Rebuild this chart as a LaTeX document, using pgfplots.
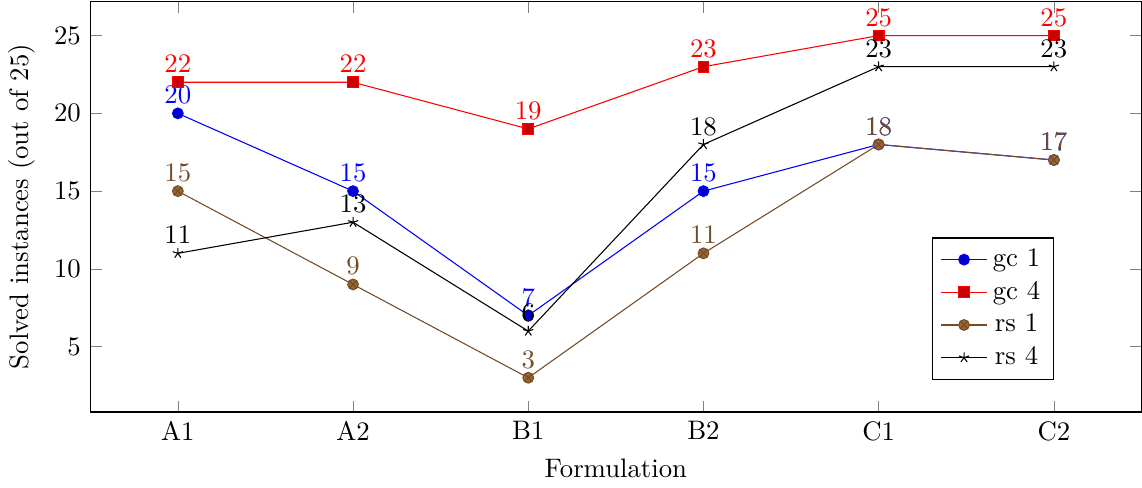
\documentclass[border=0pt]{standalone}
\usepackage{pgfplots}
\pgfplotsset{compat=1.18}
\begin{document}
\begin{tikzpicture}
\begin{axis}[
  scale only axis,
  width=393pt, height=153.5pt,
  xmin=-0.5, xmax=5.5,
  ymin=0.8, ymax=27.2,
  xtick={0,1,2,3,4,5},
  xticklabels={A1,A2,B1,B2,C1,C2},
  ytick={5,10,15,20,25},
  xlabel={Formulation},
  ylabel={Solved instances (out of 25)},
  nodes near coords,
  legend style={at={(0.917,0.078)},anchor=south east},
]
\addplot[blue, mark=*, every mark/.append style={fill=blue!80!black}] coordinates {(0,20) (1,15) (2,7) (3,15) (4,18) (5,17)};
\addlegendentry{gc 1}
\addplot[red, mark=square*, every mark/.append style={fill=red!80!black}] coordinates {(0,22) (1,22) (2,19) (3,23) (4,25) (5,25)};
\addlegendentry{gc 4}
\addplot[brown!60!black, mark=otimes*, every mark/.append style={fill=brown!80!black}] coordinates {(0,15) (1,9) (2,3) (3,11) (4,18) (5,17)};
\addlegendentry{rs 1}
\addplot[black, mark=star] coordinates {(0,11) (1,13) (2,6) (3,18) (4,23) (5,23)};
\addlegendentry{rs 4}
\end{axis}
\end{tikzpicture}
\end{document}
